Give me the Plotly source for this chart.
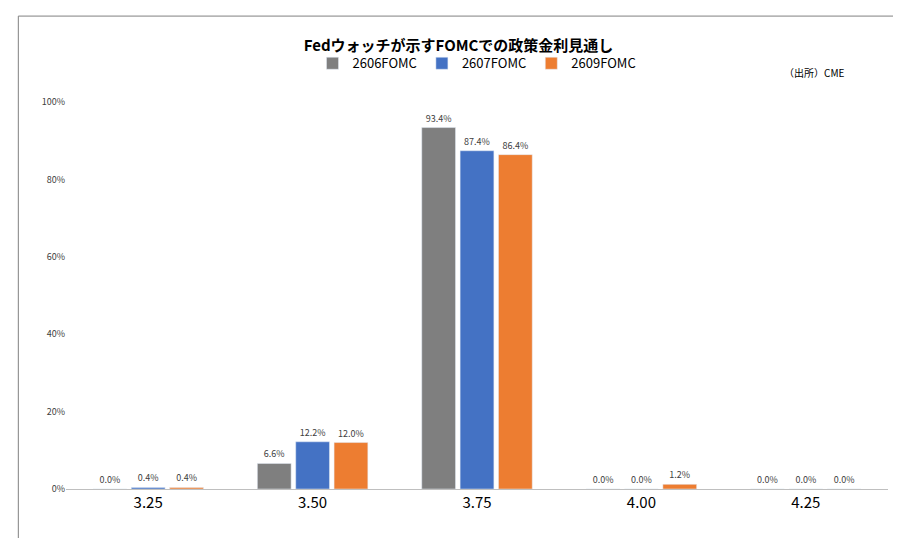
import plotly.graph_objects as go

rates = ["3.25", "3.50", "3.75", "4.00", "4.25"]
fomc_2606 = [0.0, 6.6, 93.4, 0.0, 0.0]
fomc_2607 = [0.4, 12.2, 87.4, 0.0, 0.0]
fomc_2609 = [0.4, 12.0, 86.4, 1.2, 0.0]

names = ["2606FOMC", "2607FOMC", "2609FOMC"]
colors = ["#7f7f7f", "#4472c4", "#ed7d31"]
series = [fomc_2606, fomc_2607, fomc_2609]

fig = go.Figure()
for name, vals, c in zip(names, series, colors):
    fig.add_trace(go.Bar(
        x=rates, y=vals, name=name, marker_color=c,
        text=["%.1f%%" % v for v in vals], textposition="outside",
        textfont=dict(size=9, color="#404040"), cliponaxis=False,
    ))

fig.update_layout(
    width=901, height=538,
    paper_bgcolor="white", plot_bgcolor="white",
    font=dict(family="Noto Sans CJK JP", color="#000"),
    margin=dict(l=58, r=21, t=94, b=57),
    barmode="group", bargap=0.3, bargroupgap=0.12,
    title=dict(text="<b>Fedウォッチが示すFOMCでの政策金利見通し</b>", x=0.5, y=0.94,
               xanchor="center", font=dict(size=15)),
    legend=dict(orientation="h", x=0.5, xanchor="center", y=1.1, yanchor="middle",
                font=dict(size=13, color="#000"), itemwidth=30, traceorder="normal"),
    shapes=[dict(type="rect", xref="paper", yref="paper", x0=-0.058, x1=1.015,
                 y0=-0.13, y1=1.222, line=dict(color="#808080", width=1))],
    annotations=[dict(text="（出所）CME", xref="paper", yref="paper", x=0.95, y=1.1,
                      showarrow=False, font=dict(size=10, color="#000"))],
)
fig.update_yaxes(range=[0, 100], dtick=20, ticksuffix="%", showgrid=False,
                 tickfont=dict(size=9, color="#404040"), zeroline=False)
fig.update_xaxes(showline=True, linecolor="#bfbfbf", tickfont=dict(size=15),
                 ticks="outside", tickcolor="#bfbfbf", ticklen=0)
fig.write_html("out.html")
